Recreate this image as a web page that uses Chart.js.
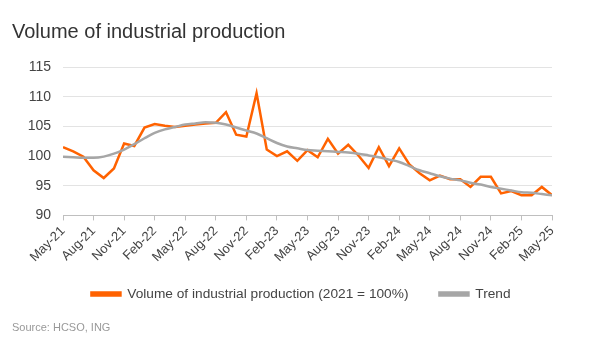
<!DOCTYPE html>
<html>
<head>
<meta charset="utf-8">
<script src="https://cdn.jsdelivr.net/npm/chart.js@4"></script>
<style>
  html, body { margin: 0; padding: 0; background: #fff; }
  #wrap { position: relative; width: 596px; height: 352px; }
</style>
</head>
<body>
<div id="wrap"><canvas id="chart" width="596" height="352"></canvas></div>
<script>
// tick labels, one every 3 months (May-21 .. May-25)
const tickLabels = [
    'May-21', 'Aug-21', 'Nov-21', 'Feb-22', 'May-22', 'Aug-22', 'Nov-22', 'Feb-23', 'May-23',
    'Aug-23', 'Nov-23', 'Feb-24', 'May-24', 'Aug-24', 'Nov-24', 'Feb-25', 'May-25'
];

// monthly values, May-21 .. May-25 (49 months)
const production = [
    101.5, 100.8, 99.9, 97.6, 96.3, 97.9, 102.1, 101.7, 104.8, 105.4,
    105.1, 104.9, 105.1, 105.3, 105.5, 105.6, 107.4, 103.6, 103.3, 110.6,
    101.1, 100.0, 100.8, 99.2, 101.0, 99.8, 102.9, 100.4, 101.9, 100.1,
    98.0, 101.5, 98.3, 101.3, 98.6, 97.1, 95.9, 96.7, 96.1, 96.1,
    94.8, 96.5, 96.5, 93.7, 94.1, 93.4, 93.4, 94.8, 93.4
];
const trend = [
    99.9, 99.8, 99.7, 99.7, 99.9, 100.4, 101.1, 102.0, 103.0, 103.9,
    104.5, 104.9, 105.3, 105.5, 105.7, 105.6, 105.3, 104.8, 104.3, 103.8,
    103.0, 102.2, 101.6, 101.3, 101.0, 100.9, 100.8, 100.7, 100.6, 100.4,
    100.1, 99.8, 99.4, 99.0, 98.3, 97.6, 97.1, 96.6, 96.2, 95.9,
    95.5, 95.2, 94.8, 94.5, 94.2, 93.9, 93.8, 93.6, 93.4
];

const orange = '#ff6200';
const grey = '#a6a6a6';
const font = '"Liberation Sans", Arial, sans-serif';

const toPoints = arr => arr.map((v, i) => ({ x: i, y: v }));

// legend centred on the whole picture; x labels allowed to run below their (shrunk) box
const layoutTweaks = {
    id: 'layoutTweaks',
    afterLayout(chart) {
        chart.legend.left += 19;
        chart.legend.right += 19;
        chart.scales.x.bottom += 14;
        chart.scales.x.height += 14;
    }
};

const ctx = document.getElementById('chart').getContext('2d');
new Chart(ctx, {
    type: 'line',
    data: {
        datasets: [
            {
                label: 'Volume of industrial production (2021 = 100%)',
                data: toPoints(production),
                borderColor: orange,
                backgroundColor: orange,
                borderWidth: 2.5,
                pointRadius: 0,
                tension: 0,
                order: 2
            },
            {
                label: 'Trend',
                data: toPoints(trend),
                borderColor: grey,
                backgroundColor: grey,
                borderWidth: 2.5,
                pointRadius: 0,
                cubicInterpolationMode: 'monotone',
                order: 1
            }
        ]
    },
    options: {
        responsive: false,
        animation: false,
        layout: { padding: { left: 12, right: 44, top: 0, bottom: 4 } },
        plugins: {
            title: {
                display: true,
                text: 'Volume of industrial production',
                align: 'start',
                color: '#333',
                font: { family: font, size: 20, weight: 'normal' },
                padding: { top: 20, bottom: 23 }
            },
            subtitle: {
                display: true,
                position: 'bottom',
                text: 'Source: HCSO, ING',
                align: 'start',
                color: '#999',
                font: { family: font, size: 11 },
                padding: { top: 11, bottom: 13 }
            },
            legend: {
                position: 'bottom',
                labels: {
                    sort: (a, b) => a.datasetIndex - b.datasetIndex,
                    boxWidth: 29,
                    boxHeight: 3,
                    padding: 31,
                    color: '#444',
                    font: { family: font, size: 13.7 }
                }
            },
            tooltip: { enabled: false }
        },
        scales: {
            x: {
                type: 'linear',
                min: 0,
                max: 48,
                border: { display: true, color: '#bfbfbf', width: 1 },
                grid: { drawOnChartArea: false, drawTicks: true, tickLength: 5, color: '#bfbfbf' },
                ticks: {
                    stepSize: 3,
                    autoSkip: false,
                    maxRotation: 45,
                    minRotation: 45,
                    color: '#444',
                    font: { family: font, size: 13 },
                    callback: value => tickLabels[value / 3]
                },
                afterFit: scale => { scale.height -= 12; }
            },
            y: {
                min: 90,
                max: 115,
                border: { display: false },
                grid: { color: '#e3e3e3', drawTicks: false },
                ticks: {
                    stepSize: 5,
                    padding: 12,
                    color: '#444',
                    font: { family: font, size: 14 }
                },
                afterFit: scale => { scale.width = 51; }
            }
        }
    },
    plugins: [layoutTweaks]
});
</script>
</body>
</html>
